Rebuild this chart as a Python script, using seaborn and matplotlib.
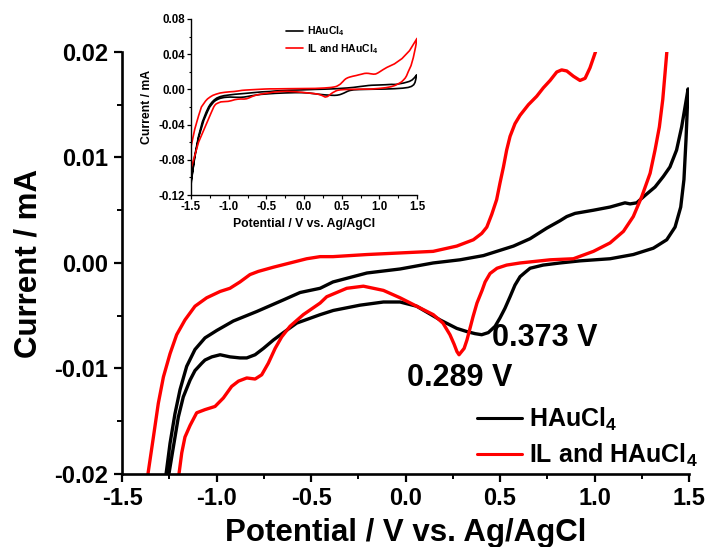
import numpy as np
import pandas as pd
import matplotlib
matplotlib.use('Agg')
import matplotlib.pyplot as plt
import seaborn as sns
from matplotlib.ticker import MultipleLocator, FormatStrFormatter

# ---------------- data (potential V, current mA) ----------------
black_up_x = [-1.50, -1.45, -1.40, -1.35, -1.30, -1.267, -1.246, -1.220, -1.193, -1.158,
              -1.114, -1.061, -0.999, -0.911, -0.787, -0.646, -0.558, -0.452, -0.384, -0.204,
              -0.029, 0.146, 0.288, 0.412, 0.571, 0.659, 0.747, 0.817, 0.853, 0.897,
              0.994, 1.082, 1.161, 1.188, 1.223, 1.267, 1.320, 1.364, 1.399, 1.434,
              1.461, 1.479, 1.495]
black_up_y = [-0.108, -0.075, -0.053, -0.037, -0.026, -0.0200, -0.0171, -0.0143, -0.0120, -0.0098,
              -0.0082, -0.0071, -0.0064, -0.0055, -0.0046, -0.0035, -0.0028, -0.0024, -0.0018, -0.00095,
              -0.00057, 0.0, 0.0003, 0.0007, 0.0016, 0.0023, 0.0033, 0.0040, 0.0044, 0.0047,
              0.0050, 0.0053, 0.0057, 0.0056, 0.0057, 0.0064, 0.0072, 0.0082, 0.0091, 0.0107,
              0.0129, 0.0148, 0.0165]
black_dn_x = [1.484, 1.473, 1.456, 1.426, 1.382, 1.311, 1.205, 1.082, 0.923, 0.817,
              0.728, 0.659, 0.632, 0.606, 0.579, 0.553, 0.526, 0.500, 0.474, 0.438,
              0.403, 0.368, 0.324, 0.271, 0.183, 0.059, -0.029, -0.117, -0.241, -0.382,
              -0.452, -0.576, -0.646, -0.699, -0.752, -0.796, -0.840, -0.876, -0.929, -0.981,
              -1.025, -1.061, -1.078, -1.114, -1.140, -1.176, -1.202, -1.228, -1.251, -1.28,
              -1.33, -1.40, -1.45, -1.50]
black_dn_y = [0.0117, 0.0079, 0.0053, 0.0034, 0.0022, 0.0014, 0.0008, 0.0004, 0.0002, 0.0,
              -0.0002, -0.0005, -0.0009, -0.0013, -0.0021, -0.0032, -0.0043, -0.0052, -0.0060, -0.0066,
              -0.0068, -0.0067, -0.0065, -0.0062, -0.0054, -0.0041, -0.0037, -0.0037, -0.0040, -0.0045,
              -0.0049, -0.0057, -0.0066, -0.0073, -0.0081, -0.0087, -0.0090, -0.0090, -0.0089, -0.0087,
              -0.0089, -0.0092, -0.0095, -0.0102, -0.0111, -0.0127, -0.0146, -0.0174, -0.0199, -0.025,
              -0.035, -0.055, -0.077, -0.105]

red_up_x = [-1.50, -1.45, -1.40, -1.362, -1.334, -1.308, -1.281, -1.246, -1.211, -1.167,
            -1.114, -1.052, -0.981, -0.929, -0.876, -0.823, -0.779, -0.699, -0.611, -0.523,
            -0.452, -0.384, -0.204, -0.029, 0.146, 0.271, 0.359, 0.403, 0.430, 0.456,
            0.482, 0.500, 0.518, 0.535, 0.553, 0.579, 0.606, 0.650, 0.694, 0.729,
            0.765, 0.800, 0.826, 0.853, 0.888, 0.923, 0.950, 0.976, 1.003, 1.05,
            1.10, 1.20, 1.30, 1.40, 1.50]
red_up_y = [-0.065, -0.045, -0.030, -0.0199, -0.0165, -0.0133, -0.0108, -0.0086, -0.0068, -0.0054,
            -0.0041, -0.0033, -0.0027, -0.0024, -0.0018, -0.0011, -0.0008, -0.0004, 0.0, 0.0004,
            0.0006, 0.0006, 0.0008, 0.00095, 0.0011, 0.0016, 0.0022, 0.0028, 0.0034, 0.0046,
            0.0060, 0.0076, 0.0091, 0.0107, 0.0120, 0.0132, 0.0140, 0.0150, 0.0158, 0.0166,
            0.0173, 0.0181, 0.0183, 0.0182, 0.0177, 0.0173, 0.0175, 0.0185, 0.0199, 0.0225,
            0.025, 0.029, 0.035, 0.044, 0.058]
red_dn_x = [1.48, 1.45, 1.42, 1.382, 1.373, 1.361, 1.343, 1.320, 1.294, 1.250,
            1.205, 1.153, 1.082, 0.994, 0.888, 0.765, 0.606, 0.535, 0.484, 0.447,
            0.421, 0.405, 0.378, 0.357, 0.341, 0.325, 0.310, 0.283, 0.272, 0.257,
            0.235, 0.198, 0.147, 0.059, -0.029, -0.117, -0.223, -0.311, -0.417, -0.452,
            -0.541, -0.611, -0.655, -0.690, -0.726, -0.761, -0.796, -0.840, -0.884, -0.920,
            -0.964, -1.008, -1.061, -1.105, -1.140, -1.167, -1.184, -1.198, -1.23, -1.30,
            -1.40, -1.45, -1.50]
red_dn_y = [0.048, 0.036, 0.027, 0.0199, 0.0180, 0.0155, 0.0129, 0.0107, 0.0085, 0.0063,
            0.0044, 0.0030, 0.0019, 0.0011, 0.0004, 0.0003, 0.0, -0.0002, -0.0005, -0.0010,
            -0.0018, -0.0026, -0.0038, -0.0051, -0.0062, -0.0073, -0.0081, -0.0087, -0.0084, -0.0077,
            -0.0068, -0.0057, -0.0049, -0.0041, -0.0033, -0.0026, -0.0022, -0.0024, -0.0032, -0.0038,
            -0.0049, -0.0060, -0.0070, -0.0081, -0.0095, -0.0106, -0.0110, -0.0109, -0.0112, -0.0117,
            -0.0128, -0.0136, -0.0139, -0.0142, -0.0154, -0.0165, -0.0180, -0.0199, -0.026, -0.040,
            -0.060, -0.075, -0.090]

label_black = r'HAuCl$_4$'
label_red = r'IL and HAuCl$_4$'
peak_labels = ['0.373 V', '0.289 V']
x_label = 'Potential / V vs. Ag/AgCl'
y_label = 'Current / mA'


def cycle(ux, uy, dx, dy):
    E = list(ux) + list(dx)
    I = list(uy) + list(dy)
    return pd.DataFrame({'E': E, 'I': I, 'step': np.arange(len(E))})


df_black = cycle(black_up_x, black_up_y, black_dn_x, black_dn_y)
df_red = cycle(red_up_x, red_up_y, red_dn_x, red_dn_y)

# ---------------- style ----------------
sns.set_style('ticks')
plt.rcParams['font.family'] = ['Liberation Sans', 'DejaVu Sans']
plt.rcParams['font.weight'] = 'bold'
plt.rcParams['axes.labelweight'] = 'bold'
plt.rcParams['axes.unicode_minus'] = False
plt.rcParams['text.color'] = 'black'
plt.rcParams['axes.labelcolor'] = 'black'
plt.rcParams['axes.edgecolor'] = 'black'
plt.rcParams['xtick.color'] = 'black'
plt.rcParams['ytick.color'] = 'black'
plt.rcParams['mathtext.fontset'] = 'custom'
plt.rcParams['mathtext.rm'] = 'Liberation Sans:bold'
plt.rcParams['mathtext.bf'] = 'Liberation Sans:bold'
plt.rcParams['mathtext.it'] = 'Liberation Sans:bold'
plt.rcParams['mathtext.default'] = 'rm'

fig = plt.figure(figsize=(7.07, 5.47), dpi=100)
ax = fig.add_axes([0.1726, 0.1335, 0.8020, 0.7715])

line_kw = dict(sort=False, estimator=None, solid_joinstyle='round', solid_capstyle='round')
sns.lineplot(data=df_black, x='E', y='I', color='black', lw=2.4, ax=ax, label=label_black, **line_kw)
sns.lineplot(data=df_red, x='E', y='I', color='#ff0000', lw=2.4, ax=ax, label=label_red, **line_kw)

ax.set_xlim(-1.5, 1.5)
ax.set_ylim(-0.02, 0.02)
ax.xaxis.set_major_locator(MultipleLocator(0.5))
ax.xaxis.set_minor_locator(MultipleLocator(0.25))
ax.yaxis.set_major_locator(MultipleLocator(0.01))
ax.yaxis.set_minor_locator(MultipleLocator(0.005))
ax.xaxis.set_major_formatter(FormatStrFormatter('%.1f'))
ax.yaxis.set_major_formatter(FormatStrFormatter('%.2f'))
for s in ['top', 'right']:
    ax.spines[s].set_visible(False)
for s in ['left', 'bottom']:
    ax.spines[s].set_linewidth(1.9)
    ax.spines[s].set_color('black')
ax.tick_params(which='both', colors='black')
ax.tick_params(which='major', direction='out', length=6, width=1.6, labelsize=17)
ax.tick_params(axis='x', which='major', pad=3.5)
ax.tick_params(axis='y', which='major', pad=4)
ax.tick_params(which='minor', direction='out', length=3.8, width=1.4)
for t in ax.get_xticklabels() + ax.get_yticklabels():
    t.set_fontweight('bold')

ax.set_xlabel(x_label, fontsize=22.5, fontweight='bold', color='black')
ax.set_ylabel(y_label, fontsize=22.5, fontweight='bold', color='black')
ax.xaxis.set_label_coords(0.5, -0.104)
ax.yaxis.set_label_coords(-0.138, 0.5)

ax.text(0.458, -0.0071, peak_labels[0], fontsize=22, fontweight='bold', ha='left', va='center',
        color='black')
ax.text(0.008, -0.0109, peak_labels[1], fontsize=22, fontweight='bold', ha='left', va='center',
        color='black')

leg = ax.legend(loc='upper left', bbox_to_anchor=(0.626, 0.161), frameon=False,
                fontsize=18, handlelength=1.8, handletextpad=0.3, labelspacing=0.35,
                borderpad=0, borderaxespad=0)
for line in leg.get_lines():
    line.set_linewidth(2.2)
for t in leg.get_texts():
    t.set_color('black')

# ---------------- inset ----------------
axi = fig.add_axes([0.2702, 0.6435, 0.3197, 0.3218])
sns.lineplot(data=df_black, x='E', y='I', color='black', lw=1.2, ax=axi, label=label_black, **line_kw)
sns.lineplot(data=df_red, x='E', y='I', color='#ff0000', lw=1.2, ax=axi, label=label_red, **line_kw)
axi.set_xlim(-1.5, 1.5)
axi.set_ylim(-0.12, 0.08)
axi.xaxis.set_major_locator(MultipleLocator(0.5))
axi.xaxis.set_minor_locator(MultipleLocator(0.25))
axi.yaxis.set_major_locator(MultipleLocator(0.04))
axi.yaxis.set_minor_locator(MultipleLocator(0.02))
axi.xaxis.set_major_formatter(FormatStrFormatter('%.1f'))
axi.yaxis.set_major_formatter(FormatStrFormatter('%.2f'))
for s in ['top', 'right']:
    axi.spines[s].set_visible(False)
for s in ['left', 'bottom']:
    axi.spines[s].set_linewidth(1.0)
    axi.spines[s].set_color('black')
axi.tick_params(which='both', colors='black')
axi.tick_params(which='major', direction='out', length=3, width=0.9, labelsize=8.3, pad=1.5)
axi.tick_params(which='minor', direction='out', length=1.8, width=0.8)
axi.set_xlabel(x_label, fontsize=8.8, fontweight='bold', color='black')
axi.set_ylabel(y_label, fontsize=8.8, fontweight='bold', color='black')
axi.xaxis.set_label_coords(0.5, -0.13)
axi.yaxis.set_label_coords(-0.17, 0.5)
legi = axi.legend(loc='upper left', bbox_to_anchor=(0.42, 0.97), frameon=False,
                  fontsize=7.5, handlelength=1.6, handletextpad=0.4, labelspacing=0.35,
                  borderpad=0, borderaxespad=0)
for t in legi.get_texts():
    t.set_color('black')

fig.savefig('out.png', dpi=100)
